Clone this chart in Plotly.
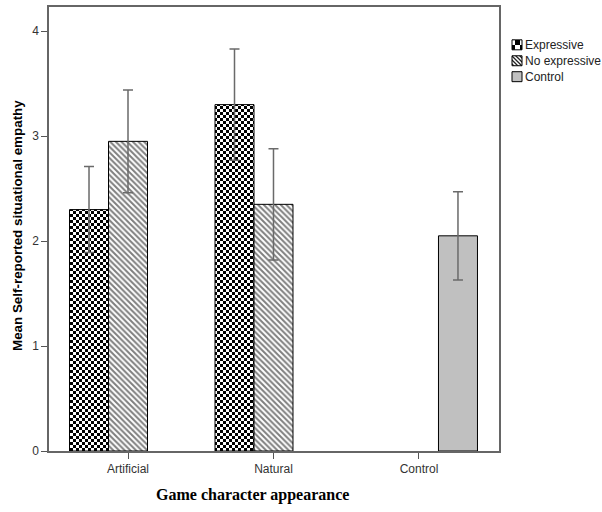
import plotly.graph_objects as go

# Mean self-reported situational empathy by game character appearance
categories = ["Artificial", "Natural", "Control"]
series_names = ["Expressive", "No expressive", "Control"]
expressive = [2.30, 3.30, None]
expressive_ci = [0.41, 0.53, 0]
no_expressive = [2.95, 2.35, None]
no_expressive_ci = [0.49, 0.53, 0]
control = [None, None, 2.05]
control_ci = [0, 0, 0.42]
y_ticks = [0, 1, 2, 3, 4]

W, H = 602, 512
ML, MR, MT, MB = 49, 103, 5, 61
PW, PH = W - ML - MR, H - MT - MB

SANS = "Arial, Liberation Sans, sans-serif"
SERIF = "Times New Roman, Liberation Serif, serif"


def px_x(x):
    return (x - ML) / PW


def px_y(y):
    return (H - MB - y) / PH


err_style = dict(type="data", visible=True, color="#6a6a6a", thickness=1.5, width=5)
outline = dict(color="black", width=1)

fig = go.Figure()
fig.add_trace(go.Bar(
    name=series_names[0], x=categories, y=expressive,
    marker=dict(color="white", line=outline,
                pattern=dict(shape="+", fgcolor="black", bgcolor="white", size=3, solidity=0.5)),
    error_y=dict(array=expressive_ci, **err_style),
))
fig.add_trace(go.Bar(
    name=series_names[1], x=categories, y=no_expressive,
    marker=dict(color="white", line=outline,
                pattern=dict(shape="\\", fgcolor="black", bgcolor="white", size=4, solidity=0.5)),
    error_y=dict(array=no_expressive_ci, **err_style),
))
fig.add_trace(go.Bar(
    name=series_names[2], x=categories, y=control,
    marker=dict(color="#c0c0c0", line=outline),
    error_y=dict(array=control_ci, **err_style),
))

# Hand-built legend: swatches + labels on the right
legend_rows = [43, 59, 75]
shapes = []
annotations = []
swatch_fills = ["white", "white", "#c0c0c0"]
for i, (name, cy) in enumerate(zip(series_names, legend_rows)):
    shapes.append(dict(
        type="rect", xref="paper", yref="paper",
        x0=px_x(512), x1=px_x(522), y0=px_y(cy - 5), y1=px_y(cy + 5),
        fillcolor=swatch_fills[i], line=dict(color="black", width=1), layer="above",
    ))
    annotations.append(dict(
        text=name, xref="paper", yref="paper", x=px_x(523), y=px_y(cy),
        xanchor="left", yanchor="middle", showarrow=False,
        font=dict(family=SANS, size=12, color="#222222"),
    ))

annotations.append(dict(
    text="<b>Mean Self-reported situational empathy</b>", xref="paper", yref="paper",
    x=px_x(17), y=px_y(225), textangle=-90, xanchor="center", yanchor="middle",
    showarrow=False, font=dict(family=SANS, size=13.4, color="black"),
))
annotations.append(dict(
    text="<b>Game character appearance</b>", xref="paper", yref="paper",
    x=px_x(252), y=px_y(495), xanchor="center", yanchor="middle",
    showarrow=False, font=dict(family=SERIF, size=16, color="black"),
))

fig.update_layout(
    width=W, height=H,
    margin=dict(l=ML, r=MR, t=MT, b=MB, pad=0),
    paper_bgcolor="white", plot_bgcolor="white",
    barmode="group", bargap=0.196, bargroupgap=0,
    showlegend=False,
    shapes=shapes, annotations=annotations,
    font=dict(family=SANS, size=12, color="#333333"),
)
fig.update_xaxes(
    type="category", range=[-0.543, 2.55], showgrid=False, zeroline=False,
    showline=True, linecolor="#666666", linewidth=1.5, mirror=True,
    ticks="outside", ticklen=6, tickcolor="#555555", tickwidth=1,
    tickfont=dict(family=SANS, size=12, color="#333333"),
)
fig.update_yaxes(
    range=[0, 4.23], tickvals=y_ticks, showgrid=False, zeroline=False,
    showline=True, linecolor="#666666", linewidth=1.5, mirror=True,
    ticks="outside", ticklen=6, tickcolor="#555555", tickwidth=1,
    tickfont=dict(family=SANS, size=12, color="#333333"),
)

# Checkerboard texture for the "Expressive" bars and hatching for the legend swatch
post_js = """
(function(){
  var gd = document.getElementById('{plot_id}');
  var NS = 'http://www.w3.org/2000/svg';
  function mk(tag, attrs){
    var e = document.createElementNS(NS, tag);
    for (var k in attrs) e.setAttribute(k, attrs[k]);
    return e;
  }
  function apply(){
    var svg = gd.querySelector('svg.main-svg');
    if (!svg) return;
    var defs = svg.querySelector('defs');
    if (!document.getElementById('checker3')) {
      var p = mk('pattern', {id:'checker3', patternUnits:'userSpaceOnUse', width:6, height:6});
      p.appendChild(mk('rect', {width:6, height:6, fill:'white'}));
      p.appendChild(mk('rect', {x:0, y:0, width:3, height:3, fill:'black'}));
      p.appendChild(mk('rect', {x:3, y:3, width:3, height:3, fill:'black'}));
      defs.appendChild(p);
      var q = mk('pattern', {id:'checker5', patternUnits:'userSpaceOnUse', width:10, height:10});
      q.appendChild(mk('rect', {width:10, height:10, fill:'white'}));
      q.appendChild(mk('rect', {x:5, y:0, width:5, height:5, fill:'black'}));
      q.appendChild(mk('rect', {x:0, y:5, width:5, height:5, fill:'black'}));
      defs.appendChild(q);
      var h = mk('pattern', {id:'hatch4', patternUnits:'userSpaceOnUse', width:4, height:4});
      h.appendChild(mk('rect', {width:4, height:4, fill:'white'}));
      h.appendChild(mk('path', {d:'M-1,-1L5,5M-1,3L1,5M3,-1L5,1', stroke:'#222', 'stroke-width':1.3}));
      defs.appendChild(h);
    }
    var traces = gd.querySelectorAll('.barlayer .trace');
    if (traces.length) {
      traces[0].querySelectorAll('.point path').forEach(function(el){
        el.style.fill = 'url(#checker3)';
      });
    }
    var s0 = gd.querySelector('.shapelayer path[data-index="0"]');
    if (s0) s0.style.fill = 'url(#checker5)';
    var s1 = gd.querySelector('.shapelayer path[data-index="1"]');
    if (s1) s1.style.fill = 'url(#hatch4)';
  }
  apply();
  if (gd.on) gd.on('plotly_afterplot', apply);
})();
"""

fig.write_html("out.html", post_script=post_js)
